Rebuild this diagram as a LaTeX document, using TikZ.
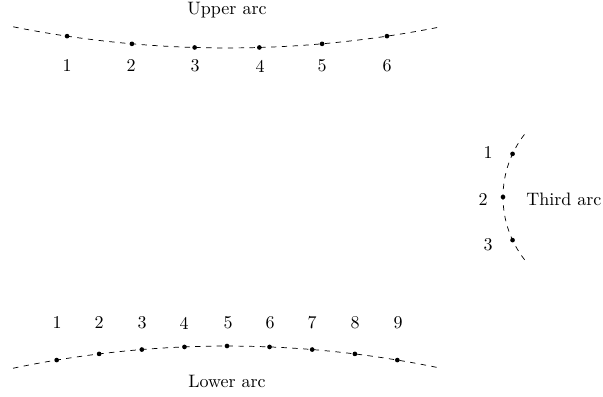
\documentclass[tikz,border=0pt]{standalone}
\begin{document}
\begin{tikzpicture}[x=0.5556pt,y=-0.5556pt,
  dot/.style={circle,fill=black,inner sep=0pt,minimum size=2.6pt},
  arcline/.style={dashed,line width=0.4pt},
  lbl/.style={inner sep=0pt}]
\useasboundingbox (0,0) rectangle (603,396);
% ---------- Upper arc ----------
\coordinate (uc) at (227,-1043);
\draw[arcline] ([shift={(101.3:1091)}]uc) arc[start angle=101.3,end angle=78.7,radius=1091];
\foreach \a/\n/\x in {98.43/1/67,95.0/2/131,91.7/3/195,88.3/4/260,85.0/5/322,81.57/6/387}{
  \node[dot] (u\n) at ([shift={(\a:1091)}]uc) {};
  \node[lbl] (ul\n) at (\x,66) {\n};
}
\node[lbl] (utitle) at (227,10) {Upper arc};
% ---------- Lower arc ----------
\coordinate (lc) at (227,1388);
\draw[arcline] ([shift={(258.15:1042)}]lc) arc[start angle=258.15,end angle=281.85,radius=1042];
\foreach \a/\n/\x in {260.59/1/57,262.95/2/99,265.31/3/142,267.66/4/184,270/5/228,272.34/6/270,274.69/7/312,277.05/8/355,279.41/9/398}{
  \node[dot] (l\n) at ([shift={(\a:1042)}]lc) {};
  \node[lbl] (ll\n) at (\x,323) {\n};
}
\node[lbl] (ltitle) at (227,381) {Lower arc};
% ---------- Third arc ----------
\coordinate (tc) at (605,197);
\draw[arcline] ([shift={(142:102)}]tc) arc[start angle=142,end angle=218,radius=102];
\node[dot] (t1) at ([shift={(205:102)}]tc) {};
\node[dot] (t2) at ([shift={(180:102)}]tc) {};
\node[dot] (t3) at ([shift={(155:102)}]tc) {};
\node[lbl] (tl1) at (488,153) {1};
\node[lbl] (tl2) at (483,200) {2};
\node[lbl] (tl3) at (488,245) {3};
\node[lbl,anchor=west] (ttitle) at (526,199) {Third arc};
\end{tikzpicture}
\end{document}
